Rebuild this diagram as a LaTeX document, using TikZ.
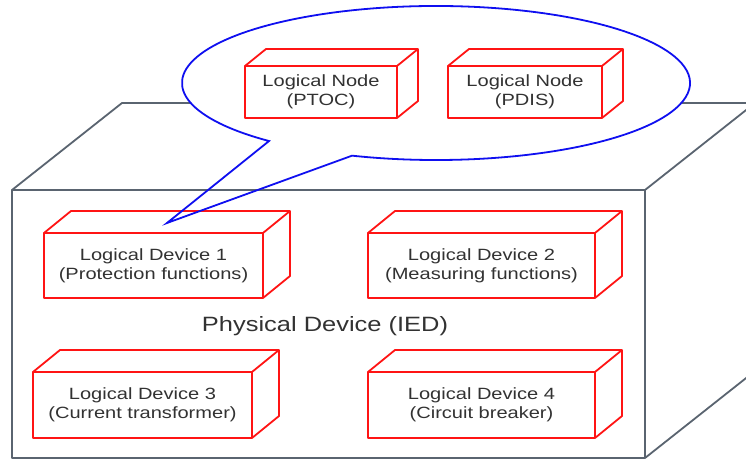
\documentclass[tikz,border=0pt]{standalone}
\usepackage{fontspec}
\setmainfont[FakeStretch=1.23]{Liberation Sans}
\usetikzlibrary{calc}
\definecolor{boxgray}{RGB}{90,100,112}
\definecolor{txtgray}{RGB}{50,50,50}
\definecolor{callblue}{RGB}{15,15,240}
\definecolor{ldred}{RGB}{255,20,20}
\tikzset{
  redline/.style={draw=ldred, line width=1.8pt, line join=round},
  cubebox/.style={redline, fill=white, inner sep=0pt, outer sep=0pt, align=center,
    text=txtgray, font=\fontsize{16.3}{18.6}\selectfont},
  grayline/.style={draw=boxgray, line width=1.8pt, line join=round},
  blueline/.style={draw=callblue, line width=1.8pt, line join=miter},
}
\newcommand\cubedepth[3]{%
  \draw[redline] (#1.north west) -- ++(#2,#3) -- ($(#1.north east)+(#2,#3)$)
    -- ($(#1.south east)+(#2,#3)$) -- (#1.south east);
  \draw[redline] (#1.north east) -- ++(#2,#3);
}
\begin{document}
\begin{tikzpicture}[x=1pt,y=1pt]
\useasboundingbox (0,0) rectangle (746,460);
\clip (0,0) rectangle (746,460);
\fill[white] (0,0) rectangle (746,460);
% physical device box
\coordinate (fbl) at (12,2);
\coordinate (ftl) at (12,270);
\coordinate (ftr) at (645,270);
\coordinate (fbr) at (645,2);
\coordinate (btl) at (122,357);
\coordinate (btr) at (755,357);
\coordinate (bbr) at (755,89);
\draw[grayline] (fbl) -- (ftl) -- (ftr) -- (fbr) -- cycle;
\draw[grayline] (ftl) -- (btl) -- (btr) -- (ftr);
\draw[grayline] (fbr) -- (bbr) -- (btr);
% callout bubble fill
\coordinate (cc) at (436,377);
\fill[white] (cc) ellipse[x radius=254, y radius=77];
% logical nodes
\node[cubebox, minimum width=152pt, minimum height=52pt] (ln1) at (321,368) {Logical Node\\(PTOC)};
\cubedepth{ln1}{21}{17}
\node[cubebox, minimum width=154pt, minimum height=52pt] (ln2) at (525,368) {Logical Node\\(PDIS)};
\cubedepth{ln2}{21}{17}
% logical devices
\node[cubebox, minimum width=219pt, minimum height=65pt] (ld1) at (153.5,194.5) {Logical Device 1\\(Protection functions)};
\cubedepth{ld1}{27}{22}
\node[cubebox, minimum width=227pt, minimum height=65pt] (ld2) at (481.5,194.5) {Logical Device 2\\(Measuring functions)};
\cubedepth{ld2}{27}{22}
\node[cubebox, minimum width=219pt, minimum height=66pt] (ld3) at (142.5,55) {Logical Device 3\\(Current transformer)};
\cubedepth{ld3}{27}{22}
\node[cubebox, minimum width=227pt, minimum height=66pt] (ld4) at (481.5,55) {Logical Device 4\\(Circuit breaker)};
\cubedepth{ld4}{27}{22}
% physical device label
\node[text=txtgray, font=\fontsize{20.7}{24}\selectfont] (pd) at (325,134) {Physical Device (IED)};
% callout outline with tail
\coordinate (tip) at (167,237);
\coordinate (jb) at ($(cc)+(250.7:254pt and 77pt)$);
\draw[blueline] (jb) arc[start angle=250.7, end angle=588.9, x radius=254pt, y radius=77pt] -- (tip) -- cycle;
\end{tikzpicture}
\end{document}
